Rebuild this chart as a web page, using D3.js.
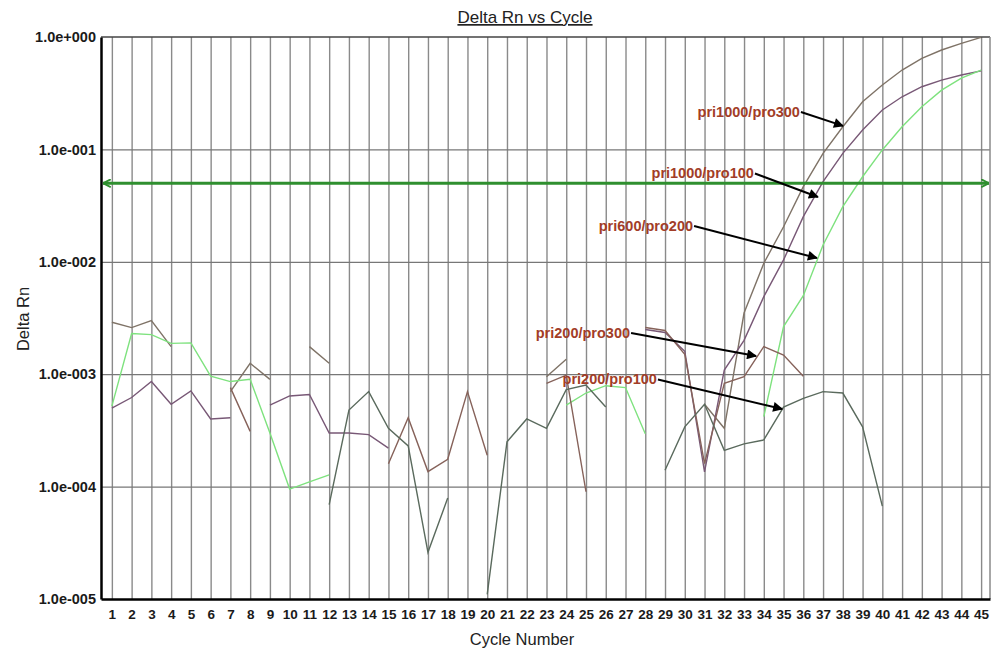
<!DOCTYPE html>
<html>
<head>
<meta charset="utf-8">
<script src="https://cdn.jsdelivr.net/npm/d3@7"></script>
<style>
  body { margin: 0; background: #fff; }
  text { font-family: "Liberation Sans", Arial, sans-serif; }
</style>
</head>
<body>
<div id="chart"></div>
<script>

var width = 997;
var height = 650;

// cycle numbers on the x axis
var cycles = [1, 2, 3, 4, 5, 6, 7, 8, 9, 10, 11, 12, 13, 14, 15, 16, 17, 18, 19, 20, 21, 22, 23,
	24, 25, 26, 27, 28, 29, 30, 31, 32, 33, 34, 35, 36, 37, 38, 39, 40, 41, 42, 43, 44, 45];

// delta Rn per cycle, null where the value is not drawn (negative / missing)
var pri1000_pro300 = [2.9e-3, 2.6e-3, 3.0e-3, 1.76e-3, null, null, 7.0e-4, 1.25e-3, 9.0e-4, null, 1.76e-3, 1.25e-3,
	null, null, null, null, null, null, null, null, null, null, 9.5e-4, 1.36e-3,
	null, null, null, null, null, null, 5.4e-4, 3.3e-4, 3.5e-3, 9.7e-3, 0.0205, 0.0466, 0.0923, 0.159,
	0.265, 0.374, 0.508, 0.646, 0.766, 0.879, 0.993];

var pri1000_pro100 = [5.0e-4, 6.2e-4, 8.6e-4, 5.4e-4, 7.1e-4, 4.0e-4, 4.1e-4, null, 5.3e-4, 6.4e-4, 6.6e-4, 3.0e-4,
	3.0e-4, 2.9e-4, 2.2e-4, null, null, null, null, null, null, null, null, null, null, null, null,
	2.5e-3, 2.35e-3, 1.6e-3, 1.35e-4, 1.09e-3, 2.0e-3, 4.9e-3, 0.0104, 0.0252, 0.0516, 0.0923, 0.149,
	0.224, 0.294, 0.361, 0.414, 0.459, 0.50];

var pri600_pro200 = [5.2e-4, 2.3e-3, 2.25e-3, 1.88e-3, 1.9e-3, 9.6e-4, 8.6e-4, 9.0e-4, 3.0e-4, 9.5e-5, 1.1e-4, 1.27e-4,
	null, null, null, null, null, null, null, null, null, null, null,
	5.3e-4, 6.8e-4, 7.9e-4, 7.6e-4, 2.95e-4, null, null, null, null, null,
	4.2e-4, 2.65e-3, 5.0e-3, 0.0141, 0.0309, 0.0571, 0.0989, 0.159, 0.240, 0.337, 0.430, 0.508];

var pri200_pro300 = [null, null, null, null, null, null, 7.6e-4, 3.1e-4, null, null, null, null, null, null,
	1.6e-4, 4.1e-4, 1.36e-4, 1.75e-4, 7.0e-4, 1.9e-4, null, null, 8.3e-4, 9.8e-4, 9.0e-5, null, null,
	2.6e-3, 2.45e-3, 1.5e-3, 1.6e-4, 8.3e-4, 9.5e-4, 1.76e-3, 1.48e-3, 9.6e-4,
	null, null, null, null, null, null, null, null, null];

var pri200_pro100 = [null, null, null, null, null, null, null, null, null, null, null,
	6.9e-5, 4.8e-4, 7.0e-4, 3.3e-4, 2.3e-4, 2.6e-5, 7.9e-5, null, 1.1e-5, 2.5e-4, 4.0e-4, 3.3e-4,
	7.3e-4, 8.0e-4, 5.1e-4, null, null, 1.4e-4, 3.4e-4, 5.4e-4, 2.1e-4, 2.4e-4, 2.6e-4, 5.1e-4,
	6.1e-4, 7.0e-4, 6.8e-4, 3.4e-4, 6.7e-5, null, null, null, null, null];

var seriesNames = ['pri1000/pro300', 'pri1000/pro100', 'pri600/pro200', 'pri200/pro300', 'pri200/pro100'];
var seriesValues = [pri1000_pro300, pri1000_pro100, pri600_pro200, pri200_pro300, pri200_pro100];
var seriesColors = ['#7f7367', '#785876', '#7ee27e', '#86625a', '#5a6a5d'];

var threshold = 0.05;

var yTicks = [1, 0.1, 0.01, 0.001, 0.0001, 0.00001];
var yTickLabels = ['1.0e+000', '1.0e-001', '1.0e-002', '1.0e-003', '1.0e-004', '1.0e-005'];

// callouts: label end (cycle, value) and arrow tip (cycle, value)
var calloutLabels = ['pri1000/pro300', 'pri1000/pro100', 'pri600/pro200', 'pri200/pro300', 'pri200/pro100'];
var calloutLabelCycle = [35.83, 33.50, 30.42, 27.23, 28.59];
var calloutLabelValue = [0.194, 0.0551, 0.0188, 2.1e-3, 8.1e-4];
var calloutTipCycle = [38.01, 36.74, 36.69, 33.61, 34.93];
var calloutTipValue = [0.162, 0.0377, 0.0108, 1.45e-3, 4.9e-4];


var svg = d3.select('#chart').append('svg')
	.attr('width', width)
	.attr('height', height);

var defs = svg.append('defs');
defs.append('marker')
	.attr('id', 'arrow')
	.attr('viewBox', '0 0 10 10')
	.attr('refX', 9).attr('refY', 5)
	.attr('markerWidth', 6).attr('markerHeight', 5)
	.attr('markerUnits', 'strokeWidth')
	.attr('orient', 'auto')
	.append('path').attr('d', 'M0,0 L10,5 L0,10 z').attr('fill', '#000');

defs.append('marker')
	.attr('id', 'garrow')
	.attr('viewBox', '0 0 10 10')
	.attr('refX', 10).attr('refY', 5)
	.attr('markerWidth', 2.6).attr('markerHeight', 3)
	.attr('markerUnits', 'strokeWidth')
	.attr('orient', 'auto-start-reverse')
	.append('path').attr('d', 'M0,0 L10,5 L0,10').attr('fill', 'none')
	.attr('stroke', '#2f8f2f').attr('stroke-width', 2.5);

var xScale = d3.scaleLinear()
	.domain([0.45, 45.45])
	.range([101, 990]);

var yScale = d3.scaleLog()
	.domain([1e-5, 1])
	.range([599, 37]);

// vertical grid, one line per cycle
svg.append('g')
	.attr('transform', 'translate(0,37)')
	.call(d3.axisBottom(xScale).tickValues(cycles).tickSize(562).tickFormat(''))
	.call(function(g){ g.select('.domain').remove(); })
	.selectAll('line')
	.attr('stroke', '#8a8a8a')
	.attr('stroke-width', 1.4);

// horizontal grid, one line per decade
svg.append('g')
	.attr('transform', 'translate(101,0)')
	.call(d3.axisRight(yScale).tickValues(yTicks.slice(1, 5)).tickSize(889).tickFormat(''))
	.call(function(g){ g.select('.domain').remove(); })
	.selectAll('line')
	.attr('stroke', '#777')
	.attr('stroke-width', 1.2);

// frame
svg.append('line').attr('x1', 101).attr('x2', 990).attr('y1', 37).attr('y2', 37)
	.attr('stroke', '#444').attr('stroke-width', 1.5);
svg.append('line').attr('x1', 990).attr('x2', 990).attr('y1', 37).attr('y2', 599)
	.attr('stroke', '#8a8a8a').attr('stroke-width', 1.5);

// y axis
var yAxis = svg.append('g')
	.attr('transform', 'translate(101,0)')
	.call(d3.axisLeft(yScale).tickValues(yTicks).tickSize(0).tickPadding(5)
		.tickFormat(function(d, i){ return yTickLabels[i]; }));
yAxis.select('.domain').attr('stroke', '#000').attr('stroke-width', 2.5);
yAxis.selectAll('text')
	.attr('fill', '#1a1a1a')
	.style('font-size', '14.5px')
	.style('font-weight', 'bold');

// x axis
var xAxis = svg.append('g')
	.attr('transform', 'translate(0,599)')
	.call(d3.axisBottom(xScale).tickValues(cycles).tickSize(0).tickPadding(10));
xAxis.select('.domain').attr('stroke', '#000').attr('stroke-width', 2.5);
xAxis.selectAll('text')
	.attr('fill', '#1a1a1a')
	.style('font-size', '13.5px')
	.style('font-weight', 'bold');

// titles
svg.append('text')
	.attr('x', 525).attr('y', 23)
	.attr('text-anchor', 'middle')
	.style('font-size', '17px')
	.style('text-decoration', 'underline')
	.attr('fill', '#222')
	.text('Delta Rn vs Cycle');

svg.append('text')
	.attr('x', 522).attr('y', 645)
	.attr('text-anchor', 'middle')
	.style('font-size', '16.5px')
	.attr('fill', '#222')
	.text('Cycle Number');

svg.append('text')
	.attr('transform', 'translate(29,319) rotate(-90)')
	.attr('text-anchor', 'middle')
	.style('font-size', '16.5px')
	.attr('fill', '#222')
	.text('Delta Rn');

// amplification curves
var line = d3.line()
	.defined(function(d){ return d != null; })
	.x(function(d, i){ return xScale(cycles[i]); })
	.y(function(d){ return yScale(d); });

svg.append('g').selectAll('.curve')
	.data(seriesValues)
	.enter().append('path').classed('curve', true)
	.attr('d', line)
	.attr('fill', 'none')
	.attr('stroke', function(d, i){ return seriesColors[i]; })
	.attr('stroke-width', 1.4);

// threshold line
svg.append('line')
	.attr('x1', xScale(0.45) + 2).attr('x2', xScale(45.45) - 1)
	.attr('y1', yScale(threshold)).attr('y2', yScale(threshold))
	.attr('stroke', '#2f8f2f')
	.attr('stroke-width', 3)
	.attr('marker-start', 'url(#garrow)')
	.attr('marker-end', 'url(#garrow)');

// callouts
var callouts = svg.append('g');
calloutLabels.forEach(function(label, i){
	var lx = xScale(calloutLabelCycle[i]);
	var ly = yScale(calloutLabelValue[i]);
	callouts.append('text')
		.attr('x', lx).attr('y', ly)
		.attr('text-anchor', 'end')
		.attr('fill', '#a23d27')
		.style('font-size', '14.5px')
		.style('font-weight', 'bold')
		.text(label);
	callouts.append('line')
		.attr('x1', lx + 1).attr('y1', ly - 5)
		.attr('x2', xScale(calloutTipCycle[i])).attr('y2', yScale(calloutTipValue[i]))
		.attr('stroke', '#000')
		.attr('stroke-width', 2)
		.attr('marker-end', 'url(#arrow)');
});

</script>
</body>
</html>
